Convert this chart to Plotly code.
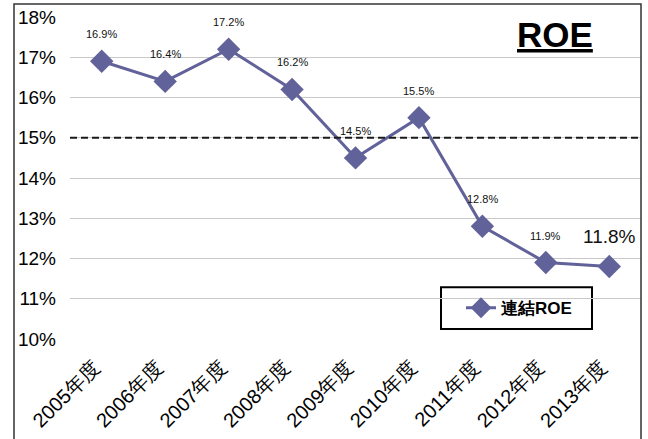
import plotly.graph_objects as go

categories = ["2005年度", "2006年度", "2007年度", "2008年度", "2009年度",
              "2010年度", "2011年度", "2012年度", "2013年度"]
roe = [16.9, 16.4, 17.2, 16.2, 14.5, 15.5, 12.8, 11.9, 11.8]
labels = ["16.9%", "16.4%", "17.2%", "16.2%", "14.5%", "15.5%", "12.8%", "11.9%", "11.8%"]
y_ticks = [10, 11, 12, 13, 14, 15, 16, 17, 18]
y_ticklabels = ["10%", "11%", "12%", "13%", "14%", "15%", "16%", "17%", "18%"]
target = 15.0

color = "#62629a"
font = "Liberation Sans, Arial, sans-serif"

# plot area in pixels: x 70..641, y 16..340
PX0, PX1, PY0, PY1 = 70, 641, 16, 340
W, H = PX1 - PX0, PY1 - PY0


def px(x):
    return (x - PX0) / W


def py(y):
    return (PY1 - y) / H


fig = go.Figure()
fig.add_trace(go.Scatter(
    x=categories, y=roe, mode="lines+markers", name="<b>連結ROE</b>",
    line=dict(color=color, width=3),
    marker=dict(symbol="diamond", size=18, color=color),
))

annotations = []
for i, (c, v, t) in enumerate(zip(categories, roe, labels)):
    last = i == len(categories) - 1
    annotations.append(dict(
        x=c, y=v, text=t, showarrow=False, xref="x", yref="y",
        yshift=30 if last else 27,
        font=dict(size=19 if last else 11, color="#111111", family=font),
    ))
annotations.append(dict(
    x=px(555), y=py(12), xref="paper", yref="paper", text="<b><u>ROE</u></b>",
    showarrow=False, font=dict(size=35, color="black", family=font),
    xanchor="center", yanchor="top",
))
fig.update_layout(annotations=annotations)

# target dashed line
fig.add_shape(type="line", xref="paper", yref="y", x0=0, x1=1, y0=target, y1=target,
              line=dict(color="#1a1a1a", width=2, dash="7px,4px"))
# outer frame
fig.add_shape(type="rect", xref="paper", yref="paper",
              x0=px(14), x1=px(641), y0=py(470), y1=py(3),
              line=dict(color="#333333", width=1.5))
# legend box
fig.add_shape(type="rect", xref="paper", yref="paper",
              x0=px(441), x1=px(592), y0=py(330), y1=py(288),
              line=dict(color="black", width=2), fillcolor="white", layer="below")

fig.update_layout(
    width=648, height=439,
    margin=dict(l=PX0, r=648 - PX1, t=PY0, b=439 - PY1),
    paper_bgcolor="white", plot_bgcolor="white",
    font=dict(family=font, color="black"),
    showlegend=True,
    legend=dict(
        x=px(461), y=py(309), xanchor="left", yanchor="middle",
        borderwidth=0, bgcolor="rgba(0,0,0,0)",
        font=dict(size=17, family=font),
    ),
    xaxis=dict(
        range=[-0.5, 8.5],
        tickangle=-45, tickfont=dict(size=20, family=font),
        showgrid=False, showline=False, zeroline=False,
        ticklabelstandoff=12, ticklabelshift=-8,
    ),
    yaxis=dict(
        range=[10, 18], tickvals=y_ticks, ticktext=y_ticklabels,
        tickfont=dict(size=19, family=font),
        showgrid=True, gridcolor="#c8c8c8", gridwidth=1,
        zeroline=False, showline=False, ticklabelstandoff=13,
    ),
)

fig.write_html("out.html")
